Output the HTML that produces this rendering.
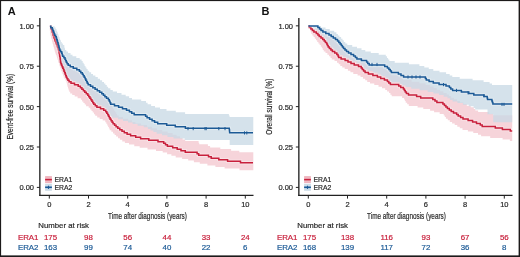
<!DOCTYPE html>
<html><head><meta charset="utf-8"><style>
html,body{margin:0;padding:0;background:#fff;}
svg{display:block;will-change:transform;}
</style></head><body>
<svg width="520" height="257" viewBox="0 0 520 257">
<rect x="0" y="0" width="520" height="257" fill="#fff"/>
<text x="7.8" y="14.6" font-size="11" font-weight="bold" fill="#111" font-family="Liberation Sans, sans-serif">A</text>
<polygon points="49.9,25.9 50.5,25.9 50.5,27.5 51.3,27.5 51.3,29.1 51.8,29.1 51.8,30.7 52.5,30.7 52.5,32.3 53.1,32.3 53.1,33.9 53.8,33.9 53.8,35.5 54.4,35.5 54.4,37.1 55.2,37.1 55.2,38.7 56.1,38.7 56.1,40.3 56.6,40.3 56.6,41.9 57.1,41.9 57.1,43.5 57.6,43.5 57.6,45.1 58.0,45.1 58.0,46.7 58.5,46.7 58.5,48.3 58.9,48.3 58.9,49.9 59.4,49.9 59.4,51.5 59.9,51.5 59.9,53.1 60.9,53.1 60.9,54.7 61.7,54.7 61.7,56.3 62.4,56.3 62.4,57.9 63.1,57.9 63.1,59.5 64.5,59.5 64.5,61.1 65.3,61.1 65.3,62.7 66.0,62.7 66.0,64.3 66.9,64.3 66.9,65.9 67.9,65.9 67.9,67.5 69.8,67.5 69.8,69.1 73.0,69.1 73.0,70.7 76.6,70.7 76.6,72.3 79.4,72.3 79.4,73.9 81.0,73.9 81.0,75.5 82.5,75.5 82.5,77.1 83.5,77.1 83.5,78.7 84.5,78.7 84.5,80.3 85.3,80.3 85.3,81.9 86.1,81.9 86.1,83.5 86.9,83.5 86.9,85.1 87.7,85.1 87.7,86.7 89.7,86.7 89.7,88.3 92.1,88.3 92.1,89.9 94.5,89.9 94.5,91.5 96.9,91.5 96.9,93.1 99.3,93.1 99.3,94.7 101.7,94.7 101.7,96.3 103.4,96.3 103.4,97.9 105.0,97.9 105.0,99.5 106.5,99.5 106.5,101.1 108.1,101.1 108.1,102.7 109.5,102.7 109.5,104.3 110.7,104.3 110.7,105.9 111.9,105.9 111.9,107.5 113.0,107.5 113.0,109.1 114.1,109.1 114.1,110.7 115.2,110.7 115.2,112.3 116.3,112.3 116.3,113.9 117.1,113.9 117.1,115.5 118.8,115.5 118.8,117.1 123.0,117.1 123.0,118.7 128.2,118.7 128.2,120.3 131.9,120.3 131.9,121.9 135.4,121.9 135.4,123.5 141.1,123.5 141.1,125.1 147.1,125.1 147.1,126.7 152.0,126.7 152.0,128.3 156.9,128.3 156.9,129.9 162.3,129.9 162.3,131.5 167.7,131.5 167.7,133.1 172.6,133.1 172.6,134.7 176.6,134.7 176.6,136.3 180.0,136.3 180.0,137.9 182.6,137.9 182.6,139.5 185.2,139.5 185.2,141.1 198.6,141.1 198.6,142.7 199.2,142.7 199.2,144.3 207.9,144.3 207.9,145.9 210.1,145.9 210.1,147.5 220.3,147.5 220.3,149.1 231.1,149.1 231.1,150.7 239.3,150.7 239.3,152.3 253.3,152.3 253.3,170.2 239.5,170.2 239.5,168.6 224.6,168.6 224.6,167.0 215.4,167.0 215.4,165.4 207.4,165.4 207.4,163.8 199.8,163.8 199.8,162.2 193.9,162.2 193.9,160.6 188.2,160.6 188.2,159.0 182.1,159.0 182.1,157.4 175.7,157.4 175.7,155.8 171.4,155.8 171.4,154.2 167.1,154.2 167.1,152.6 162.7,152.6 162.7,151.0 156.0,151.0 156.0,149.4 147.5,149.4 147.5,147.8 139.7,147.8 139.7,146.2 134.3,146.2 134.3,144.6 129.0,144.6 129.0,143.0 124.9,143.0 124.9,141.4 122.3,141.4 122.3,139.8 119.9,139.8 119.9,138.2 118.0,138.2 118.0,136.6 116.1,136.6 116.1,135.0 114.6,135.0 114.6,133.4 113.0,133.4 113.0,131.8 111.4,131.8 111.4,130.2 109.7,130.2 109.7,128.6 108.9,128.6 108.9,127.0 108.1,127.0 108.1,125.4 107.3,125.4 107.3,123.8 106.3,123.8 106.3,122.2 105.3,122.2 105.3,120.6 102.7,120.6 102.7,119.0 99.7,119.0 99.7,117.4 97.2,117.4 97.2,115.8 95.2,115.8 95.2,114.2 94.0,114.2 94.0,112.6 92.7,112.6 92.7,111.0 91.5,111.0 91.5,109.4 90.3,109.4 90.3,107.8 88.7,107.8 88.7,106.2 86.1,106.2 86.1,104.6 84.7,104.6 84.7,103.0 83.4,103.0 83.4,101.4 82.1,101.4 82.1,99.8 80.9,99.8 80.9,98.2 77.6,98.2 77.6,96.6 74.7,96.6 74.7,95.0 72.2,95.0 72.2,93.4 70.2,93.4 70.2,91.8 69.2,91.8 69.2,90.2 68.6,90.2 68.6,88.6 68.0,88.6 68.0,87.0 67.6,87.0 67.6,85.4 67.2,85.4 67.2,83.8 66.8,83.8 66.8,82.2 66.2,82.2 66.2,80.6 65.4,80.6 65.4,79.0 64.5,79.0 64.5,77.4 63.7,77.4 63.7,75.8 63.0,75.8 63.0,74.2 62.4,74.2 62.4,72.6 61.8,72.6 61.8,71.0 61.2,71.0 61.2,69.4 60.7,69.4 60.7,67.8 60.1,67.8 60.1,66.2 59.5,66.2 59.5,64.6 59.0,64.6 59.0,63.0 58.5,63.0 58.5,61.4 58.0,61.4 58.0,59.8 57.5,59.8 57.5,58.2 57.0,58.2 57.0,56.6 56.5,56.6 56.5,55.0 55.9,55.0 55.9,53.4 55.3,53.4 55.3,51.8 54.8,51.8 54.8,50.2 54.4,50.2 54.4,48.6 53.9,48.6 53.9,47.0 53.5,47.0 53.5,45.4 53.1,45.4 53.1,43.8 52.6,43.8 52.6,42.2 52.2,42.2 52.2,40.6 51.8,40.6 51.8,39.0 51.4,39.0 51.4,37.4 51.0,37.4 51.0,35.8 50.6,35.8 50.6,34.2 50.3,34.2 50.3,32.6 50.1,32.6 50.1,31.0 49.9,31.0 49.9,29.4 49.7,29.4 49.7,27.8 49.8,27.8 49.8,26.2 49.9,26.2" fill="rgba(210,40,70,0.2)"/>
<polygon points="49.9,25.9 54.4,25.9 54.4,27.5 55.6,27.5 55.6,29.1 56.4,29.1 56.4,30.7 57.1,30.7 57.1,32.3 57.7,32.3 57.7,33.9 58.3,33.9 58.3,35.5 58.8,35.5 58.8,37.1 59.4,37.1 59.4,38.7 60.1,38.7 60.1,40.3 60.9,40.3 60.9,41.9 61.7,41.9 61.7,43.5 62.9,43.5 62.9,45.1 64.3,45.1 64.3,46.7 64.5,46.7 64.5,48.3 65.0,48.3 65.0,49.9 66.3,49.9 66.3,51.5 68.0,51.5 68.0,53.1 70.5,53.1 70.5,54.7 72.5,54.7 72.5,56.3 76.3,56.3 76.3,57.9 79.7,57.9 79.7,59.5 81.6,59.5 81.6,61.1 82.7,61.1 82.7,62.7 83.7,62.7 83.7,64.3 84.6,64.3 84.6,65.9 85.5,65.9 85.5,67.5 86.5,67.5 86.5,69.1 87.6,69.1 87.6,70.7 89.2,70.7 89.2,72.3 91.1,72.3 91.1,73.9 93.0,73.9 93.0,75.5 95.4,75.5 95.4,77.1 97.8,77.1 97.8,78.7 100.0,78.7 100.0,80.3 102.1,80.3 102.1,81.9 104.0,81.9 104.0,83.5 105.4,83.5 105.4,85.1 106.8,85.1 106.8,86.7 108.1,86.7 108.1,88.3 110.4,88.3 110.4,89.9 112.8,89.9 112.8,91.5 117.0,91.5 117.0,93.1 121.5,93.1 121.5,94.7 125.7,94.7 125.7,96.3 129.1,96.3 129.1,97.9 132.0,97.9 132.0,99.5 141.2,99.5 141.2,101.1 146.0,101.1 146.0,102.7 147.6,102.7 147.6,104.3 151.1,104.3 151.1,105.9 155.0,105.9 155.0,107.5 160.0,107.5 160.0,109.1 166.5,109.1 166.5,110.7 175.8,110.7 175.8,112.3 185.1,112.3 185.1,113.9 228.9,113.9 228.9,115.5 229.6,115.5 229.6,117.1 253.3,117.1 253.3,144.9 229.7,144.9 229.7,143.3 229.7,143.3 229.7,141.7 229.7,141.7 229.7,140.1 184.8,140.1 184.8,138.5 173.5,138.5 173.5,136.9 167.4,136.9 167.4,135.3 162.0,135.3 162.0,133.7 156.6,133.7 156.6,132.1 153.4,132.1 153.4,130.5 150.6,130.5 150.6,128.9 147.9,128.9 147.9,127.3 143.8,127.3 143.8,125.7 137.6,125.7 137.6,124.1 132.6,124.1 132.6,122.5 128.0,122.5 128.0,120.9 123.0,120.9 123.0,119.3 118.0,119.3 118.0,117.7 111.9,117.7 111.9,116.1 110.4,116.1 110.4,114.5 108.9,114.5 108.9,112.9 108.1,112.9 108.1,111.3 107.2,111.3 107.2,109.7 106.1,109.7 106.1,108.1 104.6,108.1 104.6,106.5 101.4,106.5 101.4,104.9 97.3,104.9 97.3,103.3 95.4,103.3 95.4,101.7 93.9,101.7 93.9,100.1 92.8,100.1 92.8,98.5 91.8,98.5 91.8,96.9 90.7,96.9 90.7,95.3 89.6,95.3 89.6,93.7 88.5,93.7 88.5,92.1 87.2,92.1 87.2,90.5 85.7,90.5 85.7,88.9 84.1,88.9 84.1,87.3 82.5,87.3 82.5,85.7 80.9,85.7 80.9,84.1 79.1,84.1 79.1,82.5 75.5,82.5 75.5,80.9 71.4,80.9 71.4,79.3 69.3,79.3 69.3,77.7 67.9,77.7 67.9,76.1 67.0,76.1 67.0,74.5 66.3,74.5 66.3,72.9 65.6,72.9 65.6,71.3 65.0,71.3 65.0,69.7 64.4,69.7 64.4,68.1 63.8,68.1 63.8,66.5 63.2,66.5 63.2,64.9 62.5,64.9 62.5,63.3 61.8,63.3 61.8,61.7 61.2,61.7 61.2,60.1 60.8,60.1 60.8,58.5 60.5,58.5 60.5,56.9 60.3,56.9 60.3,55.3 60.0,55.3 60.0,53.7 59.7,53.7 59.7,52.1 59.4,52.1 59.4,50.5 59.1,50.5 59.1,48.9 58.8,48.9 58.8,47.3 58.4,47.3 58.4,45.7 58.0,45.7 58.0,44.1 57.4,44.1 57.4,42.5 56.8,42.5 56.8,40.9 56.2,40.9 56.2,39.3 55.6,39.3 55.6,37.7 54.9,37.7 54.9,36.1 54.3,36.1 54.3,34.5 53.8,34.5 53.8,32.9 53.2,32.9 53.2,31.3 52.7,31.3 52.7,29.7 52.2,29.7 52.2,28.1 50.8,28.1 50.8,26.5 49.9,26.5" fill="rgba(200,217,229,0.77)"/>
<polyline points="49.9,26.2 50.8,26.2 50.8,27.7 51.3,27.7 51.3,29.2 51.8,29.2 51.8,30.7 52.2,30.7 52.2,32.2 52.7,32.2 52.7,33.7 53.1,33.7 53.1,35.2 53.6,35.2 53.6,36.7 54.2,36.7 54.2,38.2 54.7,38.2 54.7,39.7 55.3,39.7 55.3,41.2 55.9,41.2 55.9,42.7 56.5,42.7 56.5,44.2 57.1,44.2 57.1,45.7 57.6,45.7 57.6,47.2 58.1,47.2 58.1,48.7 58.6,48.7 58.6,50.2 58.9,50.2 58.9,51.7 59.2,51.7 59.2,53.2 59.5,53.2 59.5,54.7 59.7,54.7 59.7,56.2 60.0,56.2 60.0,57.7 60.2,57.7 60.2,59.2 60.4,59.2 60.4,60.7 60.5,60.7 60.5,62.2 60.9,62.2 60.9,63.7 61.5,63.7 61.5,65.2 62.1,65.2 62.1,66.7 62.8,66.7 62.8,68.2 63.5,68.2 63.5,69.7 64.0,69.7 64.0,71.2 64.6,71.2 64.6,72.7 65.2,72.7 65.2,74.2 65.7,74.2 65.7,75.7 66.3,75.7 66.3,77.2 67.0,77.2 67.0,78.7 67.9,78.7 67.9,80.2 69.1,80.2 69.1,81.7 71.0,81.7 71.0,83.2 74.5,83.2 74.5,84.7 78.2,84.7 78.2,86.2 80.4,86.2 80.4,87.7 81.9,87.7 81.9,89.2 83.4,89.2 83.4,90.7 84.8,90.7 84.8,92.2 86.3,92.2 86.3,93.7 87.8,93.7 87.8,95.2 88.8,95.2 88.8,96.7 89.9,96.7 89.9,98.2 90.9,98.2 90.9,99.7 91.9,99.7 91.9,101.2 92.8,101.2 92.8,102.7 93.8,102.7 93.8,104.2 95.3,104.2 95.3,105.7 96.9,105.7 96.9,107.2 100.5,107.2 100.5,108.7 103.7,108.7 103.7,110.2 105.7,110.2 105.7,111.7 106.8,111.7 106.8,113.2 107.7,113.2 107.7,114.7 108.5,114.7 108.5,116.2 109.3,116.2 109.3,117.7 110.1,117.7 110.1,119.2 111.1,119.2 111.1,120.7 112.1,120.7 112.1,122.2 113.1,122.2 113.1,123.7 114.6,123.7 114.6,125.2 116.1,125.2 116.1,126.7 117.8,126.7 117.8,128.2 119.8,128.2 119.8,129.7 122.0,129.7 122.0,131.2 124.3,131.2 124.3,132.7 127.1,132.7 127.1,134.2 130.6,134.2 130.6,135.7 135.7,135.7 135.7,137.2 140.6,137.2 140.6,138.7 148.8,138.7 148.8,140.2 158.0,140.2 158.0,141.7 163.7,141.7 163.7,143.2 165.5,143.2 165.5,144.7 167.4,144.7 167.4,146.2 172.7,146.2 172.7,147.7 177.2,147.7 177.2,149.2 181.0,149.2 181.0,150.7 185.3,150.7 185.3,152.2 197.1,152.2 197.1,153.7 198.7,153.7 198.7,155.2 208.5,155.2 208.5,156.7 211.2,156.7 211.2,158.2 218.8,158.2 218.8,159.7 227.6,159.7 227.6,161.2 240.5,161.2 240.5,162.7 253.0,162.7" fill="none" stroke="#fff" stroke-opacity="0.3" stroke-width="3.4" stroke-linejoin="miter" stroke-linecap="butt"/><polyline points="49.9,26.2 50.8,26.2 50.8,27.7 51.3,27.7 51.3,29.2 51.8,29.2 51.8,30.7 52.2,30.7 52.2,32.2 52.7,32.2 52.7,33.7 53.1,33.7 53.1,35.2 53.6,35.2 53.6,36.7 54.2,36.7 54.2,38.2 54.7,38.2 54.7,39.7 55.3,39.7 55.3,41.2 55.9,41.2 55.9,42.7 56.5,42.7 56.5,44.2 57.1,44.2 57.1,45.7 57.6,45.7 57.6,47.2 58.1,47.2 58.1,48.7 58.6,48.7 58.6,50.2 58.9,50.2 58.9,51.7 59.2,51.7 59.2,53.2 59.5,53.2 59.5,54.7 59.7,54.7 59.7,56.2 60.0,56.2 60.0,57.7 60.2,57.7 60.2,59.2 60.4,59.2 60.4,60.7 60.5,60.7 60.5,62.2 60.9,62.2 60.9,63.7 61.5,63.7 61.5,65.2 62.1,65.2 62.1,66.7 62.8,66.7 62.8,68.2 63.5,68.2 63.5,69.7 64.0,69.7 64.0,71.2 64.6,71.2 64.6,72.7 65.2,72.7 65.2,74.2 65.7,74.2 65.7,75.7 66.3,75.7 66.3,77.2 67.0,77.2 67.0,78.7 67.9,78.7 67.9,80.2 69.1,80.2 69.1,81.7 71.0,81.7 71.0,83.2 74.5,83.2 74.5,84.7 78.2,84.7 78.2,86.2 80.4,86.2 80.4,87.7 81.9,87.7 81.9,89.2 83.4,89.2 83.4,90.7 84.8,90.7 84.8,92.2 86.3,92.2 86.3,93.7 87.8,93.7 87.8,95.2 88.8,95.2 88.8,96.7 89.9,96.7 89.9,98.2 90.9,98.2 90.9,99.7 91.9,99.7 91.9,101.2 92.8,101.2 92.8,102.7 93.8,102.7 93.8,104.2 95.3,104.2 95.3,105.7 96.9,105.7 96.9,107.2 100.5,107.2 100.5,108.7 103.7,108.7 103.7,110.2 105.7,110.2 105.7,111.7 106.8,111.7 106.8,113.2 107.7,113.2 107.7,114.7 108.5,114.7 108.5,116.2 109.3,116.2 109.3,117.7 110.1,117.7 110.1,119.2 111.1,119.2 111.1,120.7 112.1,120.7 112.1,122.2 113.1,122.2 113.1,123.7 114.6,123.7 114.6,125.2 116.1,125.2 116.1,126.7 117.8,126.7 117.8,128.2 119.8,128.2 119.8,129.7 122.0,129.7 122.0,131.2 124.3,131.2 124.3,132.7 127.1,132.7 127.1,134.2 130.6,134.2 130.6,135.7 135.7,135.7 135.7,137.2 140.6,137.2 140.6,138.7 148.8,138.7 148.8,140.2 158.0,140.2 158.0,141.7 163.7,141.7 163.7,143.2 165.5,143.2 165.5,144.7 167.4,144.7 167.4,146.2 172.7,146.2 172.7,147.7 177.2,147.7 177.2,149.2 181.0,149.2 181.0,150.7 185.3,150.7 185.3,152.2 197.1,152.2 197.1,153.7 198.7,153.7 198.7,155.2 208.5,155.2 208.5,156.7 211.2,156.7 211.2,158.2 218.8,158.2 218.8,159.7 227.6,159.7 227.6,161.2 240.5,161.2 240.5,162.7 253.0,162.7" fill="none" stroke="#c8203c" stroke-width="1.5" stroke-linejoin="miter" stroke-linecap="butt"/>
<polyline points="49.9,26.2 50.8,26.2 50.8,27.7 52.3,27.7 52.3,29.2 52.9,29.2 52.9,30.7 53.5,30.7 53.5,32.2 54.1,32.2 54.1,33.7 54.6,33.7 54.6,35.2 55.6,35.2 55.6,36.7 56.3,36.7 56.3,38.2 56.7,38.2 56.7,39.7 57.2,39.7 57.2,41.2 57.6,41.2 57.6,42.7 58.1,42.7 58.1,44.2 58.5,44.2 58.5,45.7 58.9,45.7 58.9,47.2 59.3,47.2 59.3,48.7 59.7,48.7 59.7,50.2 60.6,50.2 60.6,51.7 61.7,51.7 61.7,53.2 62.2,53.2 62.2,54.7 62.6,54.7 62.6,56.2 63.9,56.2 63.9,57.7 65.0,57.7 65.0,59.2 65.6,59.2 65.6,60.7 66.3,60.7 66.3,62.2 67.1,62.2 67.1,63.7 68.2,63.7 68.2,65.2 70.3,65.2 70.3,66.7 73.3,66.7 73.3,68.2 76.8,68.2 76.8,69.7 79.4,69.7 79.4,71.2 80.8,71.2 80.8,72.7 82.3,72.7 82.3,74.2 83.3,74.2 83.3,75.7 84.2,75.7 84.2,77.2 85.1,77.2 85.1,78.7 85.8,78.7 85.8,80.2 86.6,80.2 86.6,81.7 87.3,81.7 87.3,83.2 88.2,83.2 88.2,84.7 90.5,84.7 90.5,86.2 92.8,86.2 92.8,87.7 95.1,87.7 95.1,89.2 97.3,89.2 97.3,90.7 99.6,90.7 99.6,92.2 101.8,92.2 101.8,93.7 103.4,93.7 103.4,95.2 104.9,95.2 104.9,96.7 106.5,96.7 106.5,98.2 108.4,98.2 108.4,99.7 109.3,99.7 109.3,101.2 110.0,101.2 110.0,102.7 110.7,102.7 110.7,104.2 114.5,104.2 114.5,105.7 118.6,105.7 118.6,107.2 122.5,107.2 122.5,108.7 126.5,108.7 126.5,110.2 129.4,110.2 129.4,111.7 131.7,111.7 131.7,113.2 134.2,113.2 134.2,114.7 145.6,114.7 145.6,116.2 147.1,116.2 147.1,117.7 149.6,117.7 149.6,119.2 152.1,119.2 152.1,120.7 154.6,120.7 154.6,122.2 157.7,122.2 157.7,123.7 166.7,123.7 166.7,125.2 175.3,125.2 175.3,126.7 185.4,126.7 185.4,128.2 229.3,128.2 229.3,129.7 229.5,129.7 229.5,131.2 229.6,131.2 229.6,132.7 253.0,132.7" fill="none" stroke="#fff" stroke-opacity="0.3" stroke-width="3.4" stroke-linejoin="miter" stroke-linecap="butt"/><polyline points="49.9,26.2 50.8,26.2 50.8,27.7 52.3,27.7 52.3,29.2 52.9,29.2 52.9,30.7 53.5,30.7 53.5,32.2 54.1,32.2 54.1,33.7 54.6,33.7 54.6,35.2 55.6,35.2 55.6,36.7 56.3,36.7 56.3,38.2 56.7,38.2 56.7,39.7 57.2,39.7 57.2,41.2 57.6,41.2 57.6,42.7 58.1,42.7 58.1,44.2 58.5,44.2 58.5,45.7 58.9,45.7 58.9,47.2 59.3,47.2 59.3,48.7 59.7,48.7 59.7,50.2 60.6,50.2 60.6,51.7 61.7,51.7 61.7,53.2 62.2,53.2 62.2,54.7 62.6,54.7 62.6,56.2 63.9,56.2 63.9,57.7 65.0,57.7 65.0,59.2 65.6,59.2 65.6,60.7 66.3,60.7 66.3,62.2 67.1,62.2 67.1,63.7 68.2,63.7 68.2,65.2 70.3,65.2 70.3,66.7 73.3,66.7 73.3,68.2 76.8,68.2 76.8,69.7 79.4,69.7 79.4,71.2 80.8,71.2 80.8,72.7 82.3,72.7 82.3,74.2 83.3,74.2 83.3,75.7 84.2,75.7 84.2,77.2 85.1,77.2 85.1,78.7 85.8,78.7 85.8,80.2 86.6,80.2 86.6,81.7 87.3,81.7 87.3,83.2 88.2,83.2 88.2,84.7 90.5,84.7 90.5,86.2 92.8,86.2 92.8,87.7 95.1,87.7 95.1,89.2 97.3,89.2 97.3,90.7 99.6,90.7 99.6,92.2 101.8,92.2 101.8,93.7 103.4,93.7 103.4,95.2 104.9,95.2 104.9,96.7 106.5,96.7 106.5,98.2 108.4,98.2 108.4,99.7 109.3,99.7 109.3,101.2 110.0,101.2 110.0,102.7 110.7,102.7 110.7,104.2 114.5,104.2 114.5,105.7 118.6,105.7 118.6,107.2 122.5,107.2 122.5,108.7 126.5,108.7 126.5,110.2 129.4,110.2 129.4,111.7 131.7,111.7 131.7,113.2 134.2,113.2 134.2,114.7 145.6,114.7 145.6,116.2 147.1,116.2 147.1,117.7 149.6,117.7 149.6,119.2 152.1,119.2 152.1,120.7 154.6,120.7 154.6,122.2 157.7,122.2 157.7,123.7 166.7,123.7 166.7,125.2 175.3,125.2 175.3,126.7 185.4,126.7 185.4,128.2 229.3,128.2 229.3,129.7 229.5,129.7 229.5,131.2 229.6,131.2 229.6,132.7 253.0,132.7" fill="none" stroke="#1c5a96" stroke-width="1.5" stroke-linejoin="miter" stroke-linecap="butt"/>
<line x1="188.0" y1="127.0" x2="188.0" y2="130.2" stroke="#1c5a96" stroke-width="1.0"/><line x1="193.2" y1="127.0" x2="193.2" y2="130.2" stroke="#1c5a96" stroke-width="1.0"/><line x1="205.0" y1="127.0" x2="205.0" y2="130.2" stroke="#1c5a96" stroke-width="1.0"/><line x1="206.2" y1="127.0" x2="206.2" y2="130.2" stroke="#1c5a96" stroke-width="1.0"/><line x1="218.8" y1="127.0" x2="218.8" y2="130.2" stroke="#1c5a96" stroke-width="1.0"/><line x1="225.0" y1="127.0" x2="225.0" y2="130.2" stroke="#1c5a96" stroke-width="1.0"/><line x1="244.5" y1="131.3" x2="244.5" y2="134.5" stroke="#1c5a96" stroke-width="1.0"/><line x1="246.8" y1="131.3" x2="246.8" y2="134.5" stroke="#1c5a96" stroke-width="1.0"/>
<line x1="39.85" y1="17.9" x2="39.85" y2="196.1" stroke="#222" stroke-width="1.35"/>
<line x1="39.25" y1="195.4" x2="253.5" y2="195.4" stroke="#222" stroke-width="1.35"/>
<line x1="36.85" y1="187.40" x2="39.85" y2="187.40" stroke="#222" stroke-width="1"/>
<text x="34" y="190.40" font-size="7.5" text-anchor="end" fill="#2a2a2a" stroke="#2a2a2a" stroke-width="0.2" font-family="Liberation Sans, sans-serif">0.00</text>
<line x1="36.85" y1="147.01" x2="39.85" y2="147.01" stroke="#222" stroke-width="1"/>
<text x="34" y="150.01" font-size="7.5" text-anchor="end" fill="#2a2a2a" stroke="#2a2a2a" stroke-width="0.2" font-family="Liberation Sans, sans-serif">0.25</text>
<line x1="36.85" y1="106.62" x2="39.85" y2="106.62" stroke="#222" stroke-width="1"/>
<text x="34" y="109.62" font-size="7.5" text-anchor="end" fill="#2a2a2a" stroke="#2a2a2a" stroke-width="0.2" font-family="Liberation Sans, sans-serif">0.50</text>
<line x1="36.85" y1="66.23" x2="39.85" y2="66.23" stroke="#222" stroke-width="1"/>
<text x="34" y="69.23" font-size="7.5" text-anchor="end" fill="#2a2a2a" stroke="#2a2a2a" stroke-width="0.2" font-family="Liberation Sans, sans-serif">0.75</text>
<line x1="36.85" y1="25.84" x2="39.85" y2="25.84" stroke="#222" stroke-width="1"/>
<text x="34" y="28.84" font-size="7.5" text-anchor="end" fill="#2a2a2a" stroke="#2a2a2a" stroke-width="0.2" font-family="Liberation Sans, sans-serif">1.00</text>
<line x1="49.30" y1="195.4" x2="49.30" y2="198.6" stroke="#222" stroke-width="1"/>
<text x="49.30" y="206.9" font-size="7.5" text-anchor="middle" fill="#2a2a2a" stroke="#2a2a2a" stroke-width="0.2" font-family="Liberation Sans, sans-serif">0</text>
<line x1="88.50" y1="195.4" x2="88.50" y2="198.6" stroke="#222" stroke-width="1"/>
<text x="88.50" y="206.9" font-size="7.5" text-anchor="middle" fill="#2a2a2a" stroke="#2a2a2a" stroke-width="0.2" font-family="Liberation Sans, sans-serif">2</text>
<line x1="127.70" y1="195.4" x2="127.70" y2="198.6" stroke="#222" stroke-width="1"/>
<text x="127.70" y="206.9" font-size="7.5" text-anchor="middle" fill="#2a2a2a" stroke="#2a2a2a" stroke-width="0.2" font-family="Liberation Sans, sans-serif">4</text>
<line x1="166.90" y1="195.4" x2="166.90" y2="198.6" stroke="#222" stroke-width="1"/>
<text x="166.90" y="206.9" font-size="7.5" text-anchor="middle" fill="#2a2a2a" stroke="#2a2a2a" stroke-width="0.2" font-family="Liberation Sans, sans-serif">6</text>
<line x1="206.10" y1="195.4" x2="206.10" y2="198.6" stroke="#222" stroke-width="1"/>
<text x="206.10" y="206.9" font-size="7.5" text-anchor="middle" fill="#2a2a2a" stroke="#2a2a2a" stroke-width="0.2" font-family="Liberation Sans, sans-serif">8</text>
<line x1="245.30" y1="195.4" x2="245.30" y2="198.6" stroke="#222" stroke-width="1"/>
<text x="245.30" y="206.9" font-size="7.5" text-anchor="middle" fill="#2a2a2a" stroke="#2a2a2a" stroke-width="0.2" font-family="Liberation Sans, sans-serif">10</text>
<text x="108.1" y="218.8" font-size="9" textLength="78.8" lengthAdjust="spacingAndGlyphs" fill="#2a2a2a" stroke="#2a2a2a" stroke-width="0.2" font-family="Liberation Sans, sans-serif">Time after diagnosis (years)</text>
<text transform="translate(13.0,106.7) rotate(-90)" x="0" y="0" font-size="9.4" text-anchor="middle" textLength="65.8" lengthAdjust="spacingAndGlyphs" fill="#2a2a2a" stroke="#2a2a2a" stroke-width="0.2" font-family="Liberation Sans, sans-serif">Event-free survival (%)</text>
<rect x="45.1" y="176.1" width="6.8" height="7" fill="rgb(239,180,190)"/>
<line x1="45.1" y1="179.6" x2="51.9" y2="179.6" stroke="#fff" stroke-opacity="0.3" stroke-width="3.4"/>
<line x1="45.1" y1="179.6" x2="51.9" y2="179.6" stroke="#c8203c" stroke-width="1.7"/>
<rect x="45.1" y="183.8" width="6.8" height="7" fill="rgb(204,220,232)"/>
<line x1="45.1" y1="187.3" x2="51.9" y2="187.3" stroke="#fff" stroke-opacity="0.3" stroke-width="3.4"/>
<line x1="45.1" y1="187.3" x2="51.9" y2="187.3" stroke="#1c5a96" stroke-width="1.7"/>
<line x1="48.5" y1="185.7" x2="48.5" y2="188.9" stroke="#1c5a96" stroke-width="1.1"/>
<text x="54.5" y="181.9" font-size="6.8" fill="#2a2a2a" stroke="#2a2a2a" stroke-width="0.2" font-family="Liberation Sans, sans-serif">ERA1</text>
<text x="54.5" y="190.0" font-size="6.8" fill="#2a2a2a" stroke="#2a2a2a" stroke-width="0.2" font-family="Liberation Sans, sans-serif">ERA2</text>
<text x="38.3" y="227.6" font-size="7.8" fill="#2a2a2a" stroke="#2a2a2a" stroke-width="0.2" font-family="Liberation Sans, sans-serif">Number at risk</text>
<text x="17.9" y="240" font-size="7.9" fill="#c8203c" stroke="#c8203c" stroke-width="0.2" font-family="Liberation Sans, sans-serif">ERA1</text>
<text x="17.9" y="250" font-size="7.9" fill="#1c5a96" stroke="#1c5a96" stroke-width="0.2" font-family="Liberation Sans, sans-serif">ERA2</text>
<text x="50.50" y="240" font-size="7.9" text-anchor="middle" fill="#c8203c" stroke="#c8203c" stroke-width="0.2" font-family="Liberation Sans, sans-serif">175</text>
<text x="50.50" y="250" font-size="7.9" text-anchor="middle" fill="#1c5a96" stroke="#1c5a96" stroke-width="0.2" font-family="Liberation Sans, sans-serif">163</text>
<text x="88.50" y="240" font-size="7.9" text-anchor="middle" fill="#c8203c" stroke="#c8203c" stroke-width="0.2" font-family="Liberation Sans, sans-serif">98</text>
<text x="88.50" y="250" font-size="7.9" text-anchor="middle" fill="#1c5a96" stroke="#1c5a96" stroke-width="0.2" font-family="Liberation Sans, sans-serif">99</text>
<text x="127.70" y="240" font-size="7.9" text-anchor="middle" fill="#c8203c" stroke="#c8203c" stroke-width="0.2" font-family="Liberation Sans, sans-serif">56</text>
<text x="127.70" y="250" font-size="7.9" text-anchor="middle" fill="#1c5a96" stroke="#1c5a96" stroke-width="0.2" font-family="Liberation Sans, sans-serif">74</text>
<text x="166.90" y="240" font-size="7.9" text-anchor="middle" fill="#c8203c" stroke="#c8203c" stroke-width="0.2" font-family="Liberation Sans, sans-serif">44</text>
<text x="166.90" y="250" font-size="7.9" text-anchor="middle" fill="#1c5a96" stroke="#1c5a96" stroke-width="0.2" font-family="Liberation Sans, sans-serif">40</text>
<text x="206.10" y="240" font-size="7.9" text-anchor="middle" fill="#c8203c" stroke="#c8203c" stroke-width="0.2" font-family="Liberation Sans, sans-serif">33</text>
<text x="206.10" y="250" font-size="7.9" text-anchor="middle" fill="#1c5a96" stroke="#1c5a96" stroke-width="0.2" font-family="Liberation Sans, sans-serif">22</text>
<text x="245.30" y="240" font-size="7.9" text-anchor="middle" fill="#c8203c" stroke="#c8203c" stroke-width="0.2" font-family="Liberation Sans, sans-serif">24</text>
<text x="245.30" y="250" font-size="7.9" text-anchor="middle" fill="#1c5a96" stroke="#1c5a96" stroke-width="0.2" font-family="Liberation Sans, sans-serif">6</text>
<text x="261.5" y="14.6" font-size="11" font-weight="bold" fill="#111" font-family="Liberation Sans, sans-serif">B</text>
<polygon points="308.4,25.7 309.4,25.7 309.4,27.3 311.1,27.3 311.1,28.9 317.9,28.9 317.9,30.5 319.6,30.5 319.6,32.1 321.2,32.1 321.2,33.7 323.2,33.7 323.2,35.3 326.7,35.3 326.7,36.9 329.8,36.9 329.8,38.5 332.0,38.5 332.0,40.1 334.3,40.1 334.3,41.7 336.6,41.7 336.6,43.3 338.3,43.3 338.3,44.9 339.7,44.9 339.7,46.5 340.9,46.5 340.9,48.1 342.2,48.1 342.2,49.7 343.4,49.7 343.4,51.3 344.9,51.3 344.9,52.9 346.4,52.9 346.4,54.5 348.5,54.5 348.5,56.1 351.3,56.1 351.3,57.7 353.9,57.7 353.9,59.3 355.8,59.3 355.8,60.9 357.3,60.9 357.3,62.5 365.7,62.5 365.7,64.1 367.1,64.1 367.1,65.7 368.5,65.7 368.5,67.3 383.3,67.3 383.3,68.9 386.6,68.9 386.6,70.5 388.5,70.5 388.5,72.1 390.0,72.1 390.0,73.7 391.2,73.7 391.2,75.3 398.1,75.3 398.1,76.9 400.7,76.9 400.7,78.5 403.0,78.5 403.0,80.1 411.6,80.1 411.6,81.7 419.4,81.7 419.4,83.3 425.6,83.3 425.6,84.9 429.9,84.9 429.9,86.5 433.6,86.5 433.6,88.1 436.8,88.1 436.8,89.7 440.1,89.7 440.1,91.3 443.4,91.3 443.4,92.9 446.7,92.9 446.7,94.5 448.9,94.5 448.9,96.1 451.2,96.1 451.2,97.7 453.9,97.7 453.9,99.3 456.9,99.3 456.9,100.9 459.9,100.9 459.9,102.5 463.4,102.5 463.4,104.1 466.8,104.1 466.8,105.7 470.7,105.7 470.7,107.3 473.8,107.3 473.8,108.9 475.3,108.9 475.3,110.5 478.1,110.5 478.1,112.1 489.2,112.1 489.2,113.7 493.2,113.7 493.2,115.3 512.2,115.3 512.2,141.1 509.9,141.1 509.9,139.5 502.6,139.5 502.6,137.9 490.2,137.9 490.2,136.3 481.1,136.3 481.1,134.7 478.0,134.7 478.0,133.1 473.3,133.1 473.3,131.5 467.9,131.5 467.9,129.9 462.5,129.9 462.5,128.3 459.8,128.3 459.8,126.7 457.3,126.7 457.3,125.1 454.7,125.1 454.7,123.5 452.1,123.5 452.1,121.9 449.8,121.9 449.8,120.3 447.8,120.3 447.8,118.7 445.9,118.7 445.9,117.1 444.8,117.1 444.8,115.5 443.7,115.5 443.7,113.9 439.7,113.9 439.7,112.3 434.1,112.3 434.1,110.7 430.1,110.7 430.1,109.1 423.3,109.1 423.3,107.5 417.6,107.5 417.6,105.9 408.8,105.9 408.8,104.3 407.2,104.3 407.2,102.7 405.7,102.7 405.7,101.1 404.9,101.1 404.9,99.5 404.1,99.5 404.1,97.9 402.1,97.9 402.1,96.3 391.7,96.3 391.7,94.7 390.4,94.7 390.4,93.1 389.0,93.1 389.0,91.5 387.1,91.5 387.1,89.9 385.2,89.9 385.2,88.3 382.0,88.3 382.0,86.7 378.5,86.7 378.5,85.1 374.3,85.1 374.3,83.5 370.0,83.5 370.0,81.9 367.2,81.9 367.2,80.3 365.2,80.3 365.2,78.7 363.0,78.7 363.0,77.1 360.5,77.1 360.5,75.5 357.6,75.5 357.6,73.9 353.3,73.9 353.3,72.3 350.4,72.3 350.4,70.7 347.9,70.7 347.9,69.1 344.7,69.1 344.7,67.5 342.3,67.5 342.3,65.9 340.3,65.9 340.3,64.3 338.7,64.3 338.7,62.7 337.0,62.7 337.0,61.1 334.5,61.1 334.5,59.5 331.8,59.5 331.8,57.9 330.5,57.9 330.5,56.3 329.0,56.3 329.0,54.7 327.4,54.7 327.4,53.1 325.5,53.1 325.5,51.5 323.8,51.5 323.8,49.9 322.8,49.9 322.8,48.3 321.9,48.3 321.9,46.7 320.8,46.7 320.8,45.1 319.6,45.1 319.6,43.5 318.4,43.5 318.4,41.9 317.2,41.9 317.2,40.3 316.0,40.3 316.0,38.7 314.8,38.7 314.8,37.1 313.6,37.1 313.6,35.5 312.4,35.5 312.4,33.9 311.4,33.9 311.4,32.3 310.7,32.3 310.7,30.7 310.2,30.7 310.2,29.1 309.8,29.1 309.8,27.5 309.0,27.5 309.0,25.9 308.4,25.9" fill="rgba(210,40,70,0.2)"/>
<polygon points="308.4,25.9 321.0,25.9 321.0,27.5 325.5,27.5 325.5,29.1 329.7,29.1 329.7,30.7 334.2,30.7 334.2,32.3 336.4,32.3 336.4,33.9 337.9,33.9 337.9,35.5 339.4,35.5 339.4,37.1 341.1,37.1 341.1,38.7 342.5,38.7 342.5,40.3 343.8,40.3 343.8,41.9 345.3,41.9 345.3,43.5 347.3,43.5 347.3,45.1 352.2,45.1 352.2,46.7 357.0,46.7 357.0,48.3 361.5,48.3 361.5,49.9 365.3,49.9 365.3,51.5 370.8,51.5 370.8,53.1 378.7,53.1 378.7,54.7 385.8,54.7 385.8,56.3 387.0,56.3 387.0,57.9 388.1,57.9 388.1,59.5 389.3,59.5 389.3,61.1 394.7,61.1 394.7,62.7 408.9,62.7 408.9,64.3 419.4,64.3 419.4,65.9 424.3,65.9 424.3,67.5 428.8,67.5 428.8,69.1 433.3,69.1 433.3,70.7 439.5,70.7 439.5,72.3 446.1,72.3 446.1,73.9 449.7,73.9 449.7,75.5 452.3,75.5 452.3,77.1 459.7,77.1 459.7,78.7 472.6,78.7 472.6,80.3 483.6,80.3 483.6,81.9 489.6,81.9 489.6,83.5 492.0,83.5 492.0,85.1 512.2,85.1 512.2,122.3 493.2,122.3 493.2,120.7 493.2,120.7 493.2,119.1 493.2,119.1 493.2,117.5 493.2,117.5 493.2,115.9 493.2,115.9 493.2,114.3 487.5,114.3 487.5,112.7 487.5,112.7 487.5,111.1 487.5,111.1 487.5,109.5 475.2,109.5 475.2,107.9 473.6,107.9 473.6,106.3 468.8,106.3 468.8,104.7 462.9,104.7 462.9,103.1 457.4,103.1 457.4,101.5 452.6,101.5 452.6,99.9 449.9,99.9 449.9,98.3 447.5,98.3 447.5,96.7 443.7,96.7 443.7,95.1 439.0,95.1 439.0,93.5 433.4,93.5 433.4,91.9 427.7,91.9 427.7,90.3 419.6,90.3 419.6,88.7 411.2,88.7 411.2,87.1 405.6,87.1 405.6,85.5 402.1,85.5 402.1,83.9 399.6,83.9 399.6,82.3 390.9,82.3 390.9,80.7 389.3,80.7 389.3,79.1 387.7,79.1 387.7,77.5 385.1,77.5 385.1,75.9 381.0,75.9 381.0,74.3 377.6,74.3 377.6,72.7 372.8,72.7 372.8,71.1 368.0,71.1 368.0,69.5 364.8,69.5 364.8,67.9 363.2,67.9 363.2,66.3 362.0,66.3 362.0,64.7 360.6,64.7 360.6,63.1 356.8,63.1 356.8,61.5 352.4,61.5 352.4,59.9 349.3,59.9 349.3,58.3 346.2,58.3 346.2,56.7 342.8,56.7 342.8,55.1 339.0,55.1 339.0,53.5 338.1,53.5 338.1,51.9 337.1,51.9 337.1,50.3 334.8,50.3 334.8,48.7 332.4,48.7 332.4,47.1 330.7,47.1 330.7,45.5 329.2,45.5 329.2,43.9 328.1,43.9 328.1,42.3 327.2,42.3 327.2,40.7 326.2,40.7 326.2,39.1 324.9,39.1 324.9,37.5 323.4,37.5 323.4,35.9 321.8,35.9 321.8,34.3 319.8,34.3 319.8,32.7 318.3,32.7 318.3,31.1 316.7,31.1 316.7,29.5 314.4,29.5 314.4,27.9 312.6,27.9 312.6,26.3 308.4,26.3" fill="rgba(200,217,229,0.77)"/>
<polyline points="308.4,26.0 309.3,26.0 309.3,27.5 310.9,27.5 310.9,29.0 312.4,29.0 312.4,30.5 313.9,30.5 313.9,32.0 316.3,32.0 316.3,33.5 317.9,33.5 317.9,35.0 319.2,35.0 319.2,36.5 321.0,36.5 321.0,38.0 322.7,38.0 322.7,39.5 324.2,39.5 324.2,41.0 325.4,41.0 325.4,42.5 326.7,42.5 326.7,44.0 327.4,44.0 327.4,45.5 328.2,45.5 328.2,47.0 329.4,47.0 329.4,48.5 330.9,48.5 330.9,50.0 332.4,50.0 332.4,51.5 334.7,51.5 334.7,53.0 336.8,53.0 336.8,54.5 338.0,54.5 338.0,56.0 338.6,56.0 338.6,57.5 341.1,57.5 341.1,59.0 345.1,59.0 345.1,60.5 348.0,60.5 348.0,62.0 351.0,62.0 351.0,63.5 354.2,63.5 354.2,65.0 358.5,65.0 358.5,66.5 361.2,66.5 361.2,68.0 362.3,68.0 362.3,69.5 363.6,69.5 363.6,71.0 365.1,71.0 365.1,72.5 368.4,72.5 368.4,74.0 372.9,74.0 372.9,75.5 377.4,75.5 377.4,77.0 380.7,77.0 380.7,78.5 384.4,78.5 384.4,80.0 387.4,80.0 387.4,81.5 388.8,81.5 388.8,83.0 390.4,83.0 390.4,84.5 398.7,84.5 398.7,86.0 400.7,86.0 400.7,87.5 403.4,87.5 403.4,89.0 404.4,89.0 404.4,90.5 405.3,90.5 405.3,92.0 406.4,92.0 406.4,93.5 408.5,93.5 408.5,95.0 416.6,95.0 416.6,96.5 420.7,96.5 420.7,98.0 432.8,98.0 432.8,99.5 435.0,99.5 435.0,101.0 436.9,101.0 436.9,102.5 442.9,102.5 442.9,104.0 444.4,104.0 444.4,105.5 445.9,105.5 445.9,107.0 447.4,107.0 447.4,108.5 449.3,108.5 449.3,110.0 451.2,110.0 451.2,111.5 453.5,111.5 453.5,113.0 456.6,113.0 456.6,114.5 458.2,114.5 458.2,116.0 460.6,116.0 460.6,117.5 463.0,117.5 463.0,119.0 468.1,119.0 468.1,120.5 472.6,120.5 472.6,122.0 476.5,122.0 476.5,123.5 480.3,123.5 480.3,125.0 482.2,125.0 482.2,126.5 495.3,126.5 495.3,128.0 502.4,128.0 502.4,129.5 510.3,129.5 510.3,131.0 512.2,131.0" fill="none" stroke="#fff" stroke-opacity="0.3" stroke-width="3.4" stroke-linejoin="miter" stroke-linecap="butt"/><polyline points="308.4,26.0 309.3,26.0 309.3,27.5 310.9,27.5 310.9,29.0 312.4,29.0 312.4,30.5 313.9,30.5 313.9,32.0 316.3,32.0 316.3,33.5 317.9,33.5 317.9,35.0 319.2,35.0 319.2,36.5 321.0,36.5 321.0,38.0 322.7,38.0 322.7,39.5 324.2,39.5 324.2,41.0 325.4,41.0 325.4,42.5 326.7,42.5 326.7,44.0 327.4,44.0 327.4,45.5 328.2,45.5 328.2,47.0 329.4,47.0 329.4,48.5 330.9,48.5 330.9,50.0 332.4,50.0 332.4,51.5 334.7,51.5 334.7,53.0 336.8,53.0 336.8,54.5 338.0,54.5 338.0,56.0 338.6,56.0 338.6,57.5 341.1,57.5 341.1,59.0 345.1,59.0 345.1,60.5 348.0,60.5 348.0,62.0 351.0,62.0 351.0,63.5 354.2,63.5 354.2,65.0 358.5,65.0 358.5,66.5 361.2,66.5 361.2,68.0 362.3,68.0 362.3,69.5 363.6,69.5 363.6,71.0 365.1,71.0 365.1,72.5 368.4,72.5 368.4,74.0 372.9,74.0 372.9,75.5 377.4,75.5 377.4,77.0 380.7,77.0 380.7,78.5 384.4,78.5 384.4,80.0 387.4,80.0 387.4,81.5 388.8,81.5 388.8,83.0 390.4,83.0 390.4,84.5 398.7,84.5 398.7,86.0 400.7,86.0 400.7,87.5 403.4,87.5 403.4,89.0 404.4,89.0 404.4,90.5 405.3,90.5 405.3,92.0 406.4,92.0 406.4,93.5 408.5,93.5 408.5,95.0 416.6,95.0 416.6,96.5 420.7,96.5 420.7,98.0 432.8,98.0 432.8,99.5 435.0,99.5 435.0,101.0 436.9,101.0 436.9,102.5 442.9,102.5 442.9,104.0 444.4,104.0 444.4,105.5 445.9,105.5 445.9,107.0 447.4,107.0 447.4,108.5 449.3,108.5 449.3,110.0 451.2,110.0 451.2,111.5 453.5,111.5 453.5,113.0 456.6,113.0 456.6,114.5 458.2,114.5 458.2,116.0 460.6,116.0 460.6,117.5 463.0,117.5 463.0,119.0 468.1,119.0 468.1,120.5 472.6,120.5 472.6,122.0 476.5,122.0 476.5,123.5 480.3,123.5 480.3,125.0 482.2,125.0 482.2,126.5 495.3,126.5 495.3,128.0 502.4,128.0 502.4,129.5 510.3,129.5 510.3,131.0 512.2,131.0" fill="none" stroke="#c8203c" stroke-width="1.5" stroke-linejoin="miter" stroke-linecap="butt"/>
<polyline points="308.4,26.0 317.9,26.0 317.9,27.5 319.5,27.5 319.5,29.0 321.0,29.0 321.0,30.5 322.9,30.5 322.9,32.0 325.8,32.0 325.8,33.5 329.0,33.5 329.0,35.0 331.2,35.0 331.2,36.5 333.3,36.5 333.3,38.0 335.5,38.0 335.5,39.5 337.5,39.5 337.5,41.0 338.8,41.0 338.8,42.5 340.1,42.5 340.1,44.0 341.3,44.0 341.3,45.5 342.4,45.5 342.4,47.0 343.5,47.0 343.5,48.5 345.0,48.5 345.0,50.0 346.5,50.0 346.5,51.5 348.5,51.5 348.5,53.0 351.0,53.0 351.0,54.5 353.6,54.5 353.6,56.0 355.4,56.0 355.4,57.5 356.9,57.5 356.9,59.0 361.4,59.0 361.4,60.5 366.6,60.5 366.6,62.0 367.7,62.0 367.7,63.5 369.2,63.5 369.2,65.0 384.7,65.0 384.7,66.5 387.4,66.5 387.4,68.0 388.9,68.0 388.9,69.5 390.3,69.5 390.3,71.0 391.4,71.0 391.4,72.5 398.4,72.5 398.4,74.0 401.0,74.0 401.0,75.5 403.6,75.5 403.6,77.0 425.4,77.0 425.4,78.5 426.3,78.5 426.3,80.0 429.1,80.0 429.1,81.5 433.3,81.5 433.3,83.0 439.1,83.0 439.1,84.5 446.0,84.5 446.0,86.0 449.4,86.0 449.4,87.5 450.8,87.5 450.8,89.0 452.6,89.0 452.6,90.5 461.4,90.5 461.4,92.0 468.8,92.0 468.8,93.5 473.8,93.5 473.8,95.0 483.9,95.0 483.9,96.5 487.2,96.5 487.2,98.0 487.5,98.0 487.5,99.5 491.9,99.5 491.9,101.0 492.4,101.0 492.4,102.5 492.9,102.5 492.9,104.0 512.2,104.0" fill="none" stroke="#fff" stroke-opacity="0.3" stroke-width="3.4" stroke-linejoin="miter" stroke-linecap="butt"/><polyline points="308.4,26.0 317.9,26.0 317.9,27.5 319.5,27.5 319.5,29.0 321.0,29.0 321.0,30.5 322.9,30.5 322.9,32.0 325.8,32.0 325.8,33.5 329.0,33.5 329.0,35.0 331.2,35.0 331.2,36.5 333.3,36.5 333.3,38.0 335.5,38.0 335.5,39.5 337.5,39.5 337.5,41.0 338.8,41.0 338.8,42.5 340.1,42.5 340.1,44.0 341.3,44.0 341.3,45.5 342.4,45.5 342.4,47.0 343.5,47.0 343.5,48.5 345.0,48.5 345.0,50.0 346.5,50.0 346.5,51.5 348.5,51.5 348.5,53.0 351.0,53.0 351.0,54.5 353.6,54.5 353.6,56.0 355.4,56.0 355.4,57.5 356.9,57.5 356.9,59.0 361.4,59.0 361.4,60.5 366.6,60.5 366.6,62.0 367.7,62.0 367.7,63.5 369.2,63.5 369.2,65.0 384.7,65.0 384.7,66.5 387.4,66.5 387.4,68.0 388.9,68.0 388.9,69.5 390.3,69.5 390.3,71.0 391.4,71.0 391.4,72.5 398.4,72.5 398.4,74.0 401.0,74.0 401.0,75.5 403.6,75.5 403.6,77.0 425.4,77.0 425.4,78.5 426.3,78.5 426.3,80.0 429.1,80.0 429.1,81.5 433.3,81.5 433.3,83.0 439.1,83.0 439.1,84.5 446.0,84.5 446.0,86.0 449.4,86.0 449.4,87.5 450.8,87.5 450.8,89.0 452.6,89.0 452.6,90.5 461.4,90.5 461.4,92.0 468.8,92.0 468.8,93.5 473.8,93.5 473.8,95.0 483.9,95.0 483.9,96.5 487.2,96.5 487.2,98.0 487.5,98.0 487.5,99.5 491.9,99.5 491.9,101.0 492.4,101.0 492.4,102.5 492.9,102.5 492.9,104.0 512.2,104.0" fill="none" stroke="#1c5a96" stroke-width="1.5" stroke-linejoin="miter" stroke-linecap="butt"/>
<line x1="372.0" y1="62.9" x2="372.0" y2="66.1" stroke="#1c5a96" stroke-width="1.0"/><line x1="377.0" y1="62.9" x2="377.0" y2="66.1" stroke="#1c5a96" stroke-width="1.0"/><line x1="408.0" y1="75.4" x2="408.0" y2="78.6" stroke="#1c5a96" stroke-width="1.0"/><line x1="412.0" y1="75.4" x2="412.0" y2="78.6" stroke="#1c5a96" stroke-width="1.0"/><line x1="416.0" y1="75.4" x2="416.0" y2="78.6" stroke="#1c5a96" stroke-width="1.0"/><line x1="420.0" y1="75.4" x2="420.0" y2="78.6" stroke="#1c5a96" stroke-width="1.0"/><line x1="443.5" y1="83.0" x2="443.5" y2="86.2" stroke="#1c5a96" stroke-width="1.0"/><line x1="456.5" y1="88.8" x2="456.5" y2="92.0" stroke="#1c5a96" stroke-width="1.0"/><line x1="468.0" y1="91.2" x2="468.0" y2="94.4" stroke="#1c5a96" stroke-width="1.0"/><line x1="484.0" y1="94.1" x2="484.0" y2="97.3" stroke="#1c5a96" stroke-width="1.0"/><line x1="502.0" y1="102.8" x2="502.0" y2="106.0" stroke="#1c5a96" stroke-width="1.0"/><line x1="504.0" y1="102.8" x2="504.0" y2="106.0" stroke="#1c5a96" stroke-width="1.0"/>
<line x1="298.85" y1="17.9" x2="298.85" y2="196.1" stroke="#222" stroke-width="1.35"/>
<line x1="298.25" y1="195.4" x2="512.5" y2="195.4" stroke="#222" stroke-width="1.35"/>
<line x1="295.85" y1="187.40" x2="298.85" y2="187.40" stroke="#222" stroke-width="1"/>
<text x="293" y="190.40" font-size="7.5" text-anchor="end" fill="#2a2a2a" stroke="#2a2a2a" stroke-width="0.2" font-family="Liberation Sans, sans-serif">0.00</text>
<line x1="295.85" y1="147.01" x2="298.85" y2="147.01" stroke="#222" stroke-width="1"/>
<text x="293" y="150.01" font-size="7.5" text-anchor="end" fill="#2a2a2a" stroke="#2a2a2a" stroke-width="0.2" font-family="Liberation Sans, sans-serif">0.25</text>
<line x1="295.85" y1="106.62" x2="298.85" y2="106.62" stroke="#222" stroke-width="1"/>
<text x="293" y="109.62" font-size="7.5" text-anchor="end" fill="#2a2a2a" stroke="#2a2a2a" stroke-width="0.2" font-family="Liberation Sans, sans-serif">0.50</text>
<line x1="295.85" y1="66.23" x2="298.85" y2="66.23" stroke="#222" stroke-width="1"/>
<text x="293" y="69.23" font-size="7.5" text-anchor="end" fill="#2a2a2a" stroke="#2a2a2a" stroke-width="0.2" font-family="Liberation Sans, sans-serif">0.75</text>
<line x1="295.85" y1="25.84" x2="298.85" y2="25.84" stroke="#222" stroke-width="1"/>
<text x="293" y="28.84" font-size="7.5" text-anchor="end" fill="#2a2a2a" stroke="#2a2a2a" stroke-width="0.2" font-family="Liberation Sans, sans-serif">1.00</text>
<line x1="308.30" y1="195.4" x2="308.30" y2="198.6" stroke="#222" stroke-width="1"/>
<text x="308.30" y="206.9" font-size="7.5" text-anchor="middle" fill="#2a2a2a" stroke="#2a2a2a" stroke-width="0.2" font-family="Liberation Sans, sans-serif">0</text>
<line x1="347.50" y1="195.4" x2="347.50" y2="198.6" stroke="#222" stroke-width="1"/>
<text x="347.50" y="206.9" font-size="7.5" text-anchor="middle" fill="#2a2a2a" stroke="#2a2a2a" stroke-width="0.2" font-family="Liberation Sans, sans-serif">2</text>
<line x1="386.70" y1="195.4" x2="386.70" y2="198.6" stroke="#222" stroke-width="1"/>
<text x="386.70" y="206.9" font-size="7.5" text-anchor="middle" fill="#2a2a2a" stroke="#2a2a2a" stroke-width="0.2" font-family="Liberation Sans, sans-serif">4</text>
<line x1="425.90" y1="195.4" x2="425.90" y2="198.6" stroke="#222" stroke-width="1"/>
<text x="425.90" y="206.9" font-size="7.5" text-anchor="middle" fill="#2a2a2a" stroke="#2a2a2a" stroke-width="0.2" font-family="Liberation Sans, sans-serif">6</text>
<line x1="465.10" y1="195.4" x2="465.10" y2="198.6" stroke="#222" stroke-width="1"/>
<text x="465.10" y="206.9" font-size="7.5" text-anchor="middle" fill="#2a2a2a" stroke="#2a2a2a" stroke-width="0.2" font-family="Liberation Sans, sans-serif">8</text>
<line x1="504.30" y1="195.4" x2="504.30" y2="198.6" stroke="#222" stroke-width="1"/>
<text x="504.30" y="206.9" font-size="7.5" text-anchor="middle" fill="#2a2a2a" stroke="#2a2a2a" stroke-width="0.2" font-family="Liberation Sans, sans-serif">10</text>
<text x="367.1" y="218.8" font-size="9" textLength="78.8" lengthAdjust="spacingAndGlyphs" fill="#2a2a2a" stroke="#2a2a2a" stroke-width="0.2" font-family="Liberation Sans, sans-serif">Time after diagnosis (years)</text>
<text transform="translate(272.3,106.7) rotate(-90)" x="0" y="0" font-size="9.4" text-anchor="middle" textLength="56.0" lengthAdjust="spacingAndGlyphs" fill="#2a2a2a" stroke="#2a2a2a" stroke-width="0.2" font-family="Liberation Sans, sans-serif">Overall survival (%)</text>
<rect x="304.1" y="176.1" width="6.8" height="7" fill="rgb(239,180,190)"/>
<line x1="304.1" y1="179.6" x2="310.90000000000003" y2="179.6" stroke="#fff" stroke-opacity="0.3" stroke-width="3.4"/>
<line x1="304.1" y1="179.6" x2="310.90000000000003" y2="179.6" stroke="#c8203c" stroke-width="1.7"/>
<rect x="304.1" y="183.8" width="6.8" height="7" fill="rgb(204,220,232)"/>
<line x1="304.1" y1="187.3" x2="310.90000000000003" y2="187.3" stroke="#fff" stroke-opacity="0.3" stroke-width="3.4"/>
<line x1="304.1" y1="187.3" x2="310.90000000000003" y2="187.3" stroke="#1c5a96" stroke-width="1.7"/>
<line x1="307.5" y1="185.7" x2="307.5" y2="188.9" stroke="#1c5a96" stroke-width="1.1"/>
<text x="313.5" y="181.9" font-size="6.8" fill="#2a2a2a" stroke="#2a2a2a" stroke-width="0.2" font-family="Liberation Sans, sans-serif">ERA1</text>
<text x="313.5" y="190.0" font-size="6.8" fill="#2a2a2a" stroke="#2a2a2a" stroke-width="0.2" font-family="Liberation Sans, sans-serif">ERA2</text>
<text x="297.3" y="227.6" font-size="7.8" fill="#2a2a2a" stroke="#2a2a2a" stroke-width="0.2" font-family="Liberation Sans, sans-serif">Number at risk</text>
<text x="276.9" y="240" font-size="7.9" fill="#c8203c" stroke="#c8203c" stroke-width="0.2" font-family="Liberation Sans, sans-serif">ERA1</text>
<text x="276.9" y="250" font-size="7.9" fill="#1c5a96" stroke="#1c5a96" stroke-width="0.2" font-family="Liberation Sans, sans-serif">ERA2</text>
<text x="309.50" y="240" font-size="7.9" text-anchor="middle" fill="#c8203c" stroke="#c8203c" stroke-width="0.2" font-family="Liberation Sans, sans-serif">175</text>
<text x="309.50" y="250" font-size="7.9" text-anchor="middle" fill="#1c5a96" stroke="#1c5a96" stroke-width="0.2" font-family="Liberation Sans, sans-serif">168</text>
<text x="347.50" y="240" font-size="7.9" text-anchor="middle" fill="#c8203c" stroke="#c8203c" stroke-width="0.2" font-family="Liberation Sans, sans-serif">138</text>
<text x="347.50" y="250" font-size="7.9" text-anchor="middle" fill="#1c5a96" stroke="#1c5a96" stroke-width="0.2" font-family="Liberation Sans, sans-serif">139</text>
<text x="386.70" y="240" font-size="7.9" text-anchor="middle" fill="#c8203c" stroke="#c8203c" stroke-width="0.2" font-family="Liberation Sans, sans-serif">116</text>
<text x="386.70" y="250" font-size="7.9" text-anchor="middle" fill="#1c5a96" stroke="#1c5a96" stroke-width="0.2" font-family="Liberation Sans, sans-serif">117</text>
<text x="425.90" y="240" font-size="7.9" text-anchor="middle" fill="#c8203c" stroke="#c8203c" stroke-width="0.2" font-family="Liberation Sans, sans-serif">93</text>
<text x="425.90" y="250" font-size="7.9" text-anchor="middle" fill="#1c5a96" stroke="#1c5a96" stroke-width="0.2" font-family="Liberation Sans, sans-serif">72</text>
<text x="465.10" y="240" font-size="7.9" text-anchor="middle" fill="#c8203c" stroke="#c8203c" stroke-width="0.2" font-family="Liberation Sans, sans-serif">67</text>
<text x="465.10" y="250" font-size="7.9" text-anchor="middle" fill="#1c5a96" stroke="#1c5a96" stroke-width="0.2" font-family="Liberation Sans, sans-serif">36</text>
<text x="504.30" y="240" font-size="7.9" text-anchor="middle" fill="#c8203c" stroke="#c8203c" stroke-width="0.2" font-family="Liberation Sans, sans-serif">56</text>
<text x="504.30" y="250" font-size="7.9" text-anchor="middle" fill="#1c5a96" stroke="#1c5a96" stroke-width="0.2" font-family="Liberation Sans, sans-serif">8</text>
<rect x="0" y="0" width="520" height="1.1" fill="#1c1a1a"/>
<rect x="0" y="0" width="1.1" height="257" fill="#1c1a1a"/>
<rect x="518.6" y="0" width="1.4" height="257" fill="#1c1a1a"/>
<rect x="0" y="255.4" width="520" height="1.6" fill="#1c1a1a"/>
</svg>
</body></html>
